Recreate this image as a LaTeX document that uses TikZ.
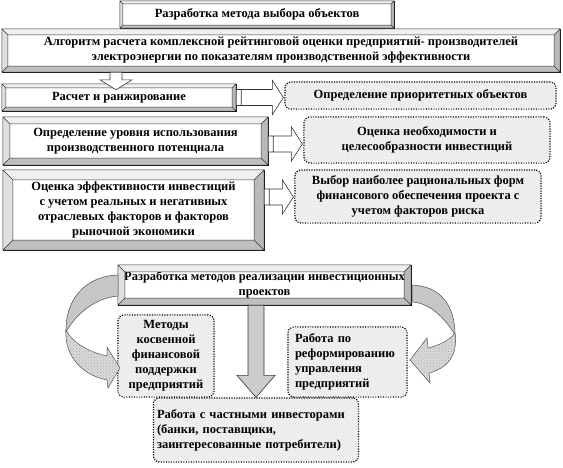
\documentclass[tikz,border=0pt]{standalone}
\usepackage{fontspec}
\setmainfont{Liberation Serif}
\usetikzlibrary{calc, patterns}

\newcommand{\bevelframe}[2]{%
  \path ([shift={(#2,-#2)}]#1.north west) coordinate (#1-a)
        ([shift={(-#2,-#2)}]#1.north east) coordinate (#1-b)
        ([shift={(-#2,#2)}]#1.south east) coordinate (#1-c)
        ([shift={(#2,#2)}]#1.south west) coordinate (#1-d);
  \fill[gray!12] (#1.north west) -- (#1.north east) -- (#1-b) -- (#1-a) -- cycle;
  \fill[gray!25] (#1.north west) -- (#1-a) -- (#1-d) -- (#1.south west) -- cycle;
  \fill[gray!50] (#1.south west) -- (#1-d) -- (#1-c) -- (#1.south east) -- cycle;
  \fill[gray!55] (#1.north east) -- (#1.south east) -- (#1-c) -- (#1-b) -- cycle;
  \draw[bevelline] (#1.north west) rectangle (#1.south east) (#1-a) rectangle (#1-c)
    (#1.north west) -- (#1-a) (#1.north east) -- (#1-b) (#1.south east) -- (#1-c) (#1.south west) -- (#1-d);}

\newcommand{\rarr}[3][0pt]{%
  \draw[blockarrow] let \p1=([yshift=#1]#2.east), \p2=(#3.west) in
    (\x1,\y1+8pt) -- (\x2-12pt,\y1+8pt) -- (\x2-12pt,\y1+17pt) -- (\x2-1pt,\y1)
    -- (\x2-12pt,\y1-17pt) -- (\x2-12pt,\y1-8pt) -- (\x1,\y1-8pt) -- cycle
    (\x1+5pt,\y1+8pt) -- (\x1+5pt,\y1-8pt);}

\begin{document}
\begin{tikzpicture}[x=1pt, y=-1pt,
	box/.style={draw, fill=white, align=center, inner sep=0pt, font=\bfseries\fontsize{12.5}{15}\selectfont},
	dotbox/.style={draw, line width=1.2pt, dash pattern=on 1.2pt off 1.3pt, rounded corners=6pt,
		fill=gray!12, postaction={pattern=crosshatch dots, pattern color=gray!22},
		align=center, inner sep=0pt, font=\bfseries\fontsize{12.5}{15}\selectfont},
	bevelline/.style={draw=black!80, line width=0.5pt},
	blockarrow/.style={draw=black!80, line width=0.6pt, fill=white},
	ribbon/.style={draw=black!70, line width=0.5pt, fill=gray!45},
	ribbontex/.style={draw=black!70, line width=0.5pt, fill=gray!30, postaction={pattern=crosshatch dots, pattern color=gray!65}}]
	\useasboundingbox (0,0) rectangle (563,467);
	\node[box, minimum width=274pt, minimum height=27pt] (sel) at (257,14.5) {Разработка метода выбора объектов};
	\node[box, minimum width=558pt, minimum height=43pt] (alg) at (281,50.5) {Алгоритм расчета комплексной рейтинговой оценки предприятий- производителей\\электроэнергии по показателям производственной эффективности};
	\node[box, minimum width=234pt, minimum height=27pt] (rank) at (119,97.5) {Расчет и ранжирование};
	\node[dotbox, minimum width=271pt, minimum height=27pt] (prio) at (420.5,95.5) {Определение приоритетных объектов};
	\node[box, minimum width=265pt, minimum height=48pt] (pot) at (135.5,141) {Определение уровня использования\\производственного потенциала};
	\node[dotbox, minimum width=246pt, minimum height=46pt] (need) at (427,140) {Оценка необходимости и\\целесообразности инвестиций};
	\node[box, minimum width=261pt, minimum height=80pt] (eff) at (133.5,210) {Оценка эффективности инвестиций\\с учетом  реальных и негативных\\отраслевых факторов  и  факторов\\рыночной экономики};
	\node[dotbox, minimum width=246pt, minimum height=53pt] (form) at (418,196.5) {Выбор наиболее рациональных форм\\финансового обеспечения проекта  с\\учетом факторов риска};
	\node[box, minimum width=293pt, minimum height=40pt] (real) at (264.5,285) {Разработка методов реализации инвестиционных\\проектов};
	\node[dotbox, minimum width=96pt, minimum height=82pt] (kosv) at (166,356) {Методы\\косвенной\\финансовой\\поддержки\\предприятий};
	\node[dotbox, minimum width=119pt, minimum height=70pt, text width=105pt, align=left] (reform) at (347.5,362) {Работа по\\реформированию\\управления\\предприятий};
	\node[dotbox, minimum width=205pt, minimum height=64pt, text width=198pt, align=left] (inv) at (256,430) {Работа с частными инвесторами\\(банки, поставщики,\\заинтересованные потребители)};

	\bevelframe{sel}{3pt}
	\bevelframe{alg}{6pt}
	\bevelframe{rank}{4pt}
	\bevelframe{pot}{7pt}
	\bevelframe{eff}{10pt}
	\bevelframe{real}{7pt}

	\draw[blockarrow] let \p1=([xshift=-165pt]alg.south), \p2=(rank.north) in
		(\x1-6pt,\y1) -- (\x1-6pt,\y2+4pt) -- (\x1-16pt,\y2+4pt) -- (\x1,\y2-6pt)
		-- (\x1+16pt,\y2+4pt) -- (\x1+6pt,\y2+4pt) -- (\x1+6pt,\y1) -- cycle;
	\rarr{rank}{prio}
	\rarr[-3pt]{pot}{need}
	\rarr[13pt]{eff}{form}
	\draw[blockarrow, fill=gray!40] let \p1=(real.south), \p2=(inv.north) in
		(\x2-8pt,\y1) -- (\x2-8pt,\y2+22pt) -- (\x2-19pt,\y2+22pt) -- (\x2,\y2)
		-- (\x2+19pt,\y2+22pt) -- (\x2+8pt,\y2+22pt) -- (\x2+8pt,\y1) -- cycle;

	\path[ribbon] (118,275) .. controls (85,276) and (65,300) .. (66,332)
		.. controls (76,314) and (95,298) .. (118,296) -- cycle;
	\path[ribbontex] (66,330) .. controls (64,358) and (85,376) .. (107,380) -- (108,388) -- (120,368)
		-- (107,347) -- (107,356) .. controls (88,352) and (72,342) .. (66,330) -- cycle;
	\path[ribbon] (412,285) .. controls (440,286) and (455,305) .. (455,335)
		.. controls (445,318) and (430,303) .. (412,302) -- cycle;
	\path[ribbontex] (455,333) .. controls (458,355) and (448,368) .. (429,373) -- (430,383) -- (410,360)
		-- (427,338) -- (428,348) .. controls (440,345) and (450,340) .. (455,333) -- cycle;
\end{tikzpicture}
\end{document}
